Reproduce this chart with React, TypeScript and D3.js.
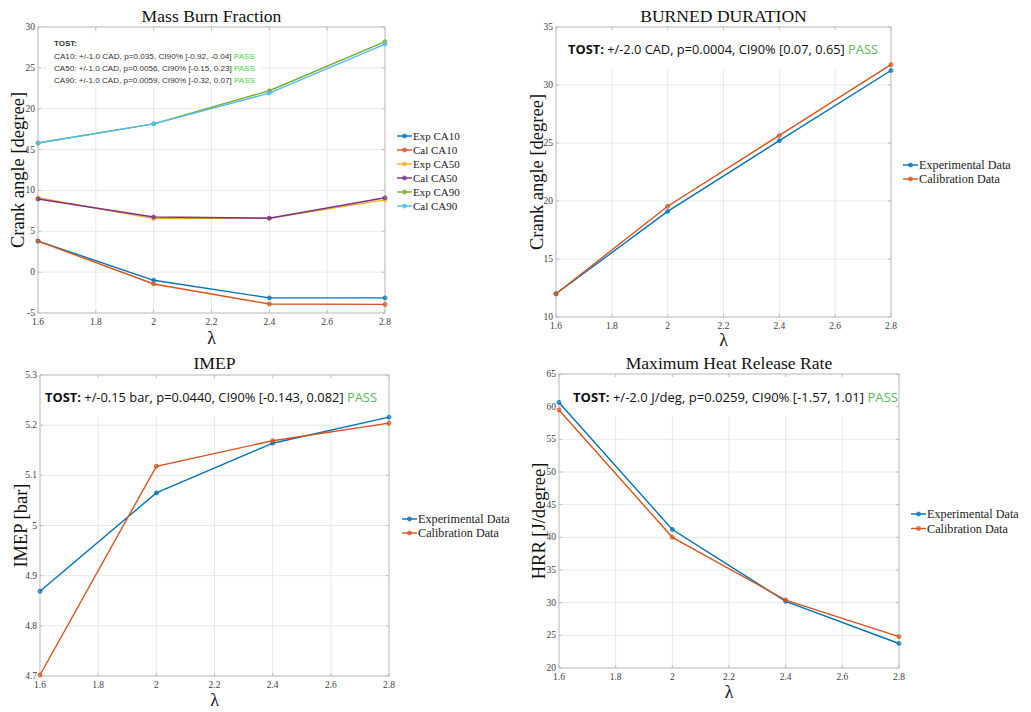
import React from "react";
import * as d3 from "d3";

const lambdaVals = [1.6, 2.0, 2.4, 2.8];
const xTicks = [1.6, 1.8, 2.0, 2.2, 2.4, 2.6, 2.8];

// Mass Burn Fraction
const mbfSeriesNames = ["Exp CA10", "Cal CA10", "Exp CA50", "Cal CA50", "Exp CA90", "Cal CA90"];
const expCA10 = [3.8, -1.0, -3.15, -3.15];
const calCA10 = [3.8, -1.45, -3.9, -3.95];
const expCA50 = [9.1, 6.55, 6.6, 8.85];
const calCA50 = [8.95, 6.75, 6.6, 9.1];
const expCA90 = [15.8, 18.15, 22.2, 28.2];
const calCA90 = [15.8, 18.15, 21.9, 27.9];
const mbfYTicks = [-5, 0, 5, 10, 15, 20, 25, 30];
const mbfTost = [
  "CA10: +/-1.0 CAD, p=0.035, CI90% [-0.92, -0.04] ",
  "CA50: +/-1.0 CAD, p=0.0056, CI90% [-0.15, 0.23] ",
  "CA90: +/-1.0 CAD, p=0.0059, CI90% [-0.32, 0.07] ",
];

// Burned duration
const bdExp = [12.0, 19.1, 25.2, 31.25];
const bdCal = [12.0, 19.55, 25.65, 31.75];
const bdYTicks = [10, 15, 20, 25, 30, 35];

// IMEP
const imepExp = [4.869, 5.065, 5.164, 5.216];
const imepCal = [4.702, 5.118, 5.169, 5.204];
const imepYTicks = [4.7, 4.8, 4.9, 5.0, 5.1, 5.2, 5.3];

// HRR
const hrrExp = [60.65, 41.2, 30.2, 23.75];
const hrrCal = [59.5, 40.0, 30.4, 24.8];
const hrrYTicks = [20, 25, 30, 35, 40, 45, 50, 55, 60, 65];

const expCalNames = ["Experimental Data", "Calibration Data"];

const C = {
  blue: "#0072BD",
  orange: "#D95319",
  yellow: "#EDB120",
  purple: "#7E2F8E",
  green: "#77AC30",
  cyan: "#4DBEEE",
};

const SERIF = "'Liberation Serif', 'Times New Roman', serif";
const SANS = "'Open Sans', 'Noto Sans', sans-serif";

type Series = { name: string; values: number[]; color: string };

type PanelProps = {
  x0: number; x1: number; yTop: number; yBot: number;
  domain: [number, number];
  yTicks: number[];
  title: string; titleY: number;
  yLabel: string; yLabelX: number;
  xLabelY: number;
  series: Series[];
  legendX: number; legendY: number; legendStep: number; legendFont: number;
  tostBox?: { x: number; y: number; w: number; h: number };
  children?: React.ReactNode;
};

function fmtTick(v: number) {
  const r = Math.round(v * 100) / 100;
  return String(r);
}

function Panel(p: PanelProps) {
  const x = d3.scaleLinear().domain([1.6, 2.8]).range([p.x0, p.x1]);
  const y = d3.scaleLinear().domain(p.domain).range([p.yBot, p.yTop]);
  const line = d3.line<number>().x((_, i) => x(lambdaVals[i])).y((d) => y(d));
  const gridCol = "#e3e3e3";
  const axisCol = "#bdbdbd";
  const tickCol = "#404040";
  return (
    <g>
      <rect x={p.x0} y={p.yTop} width={p.x1 - p.x0} height={p.yBot - p.yTop} fill="#fff" />
      {xTicks.map((t) => (
        <line key={"gx" + t} x1={x(t)} x2={x(t)} y1={p.yTop} y2={p.yBot} stroke={gridCol} strokeWidth={0.8} />
      ))}
      {p.yTicks.map((t) => (
        <line key={"gy" + t} x1={p.x0} x2={p.x1} y1={y(t)} y2={y(t)} stroke={gridCol} strokeWidth={0.8} />
      ))}
      {p.tostBox && (
        <rect x={p.tostBox.x} y={p.tostBox.y} width={p.tostBox.w} height={p.tostBox.h} fill="#fff" />
      )}
      <rect x={p.x0} y={p.yTop} width={p.x1 - p.x0} height={p.yBot - p.yTop} fill="none" stroke={axisCol} strokeWidth={0.9} />
      {xTicks.map((t) => (
        <g key={"tx" + t}>
          <line x1={x(t)} x2={x(t)} y1={p.yBot} y2={p.yBot - 3} stroke={axisCol} />
          <line x1={x(t)} x2={x(t)} y1={p.yTop} y2={p.yTop + 3} stroke={axisCol} />
          <text x={x(t)} y={p.yBot + 12} textAnchor="middle" fontFamily={SERIF} fontSize={9.5} fill={tickCol}>
            {fmtTick(t)}
          </text>
        </g>
      ))}
      {p.yTicks.map((t) => (
        <g key={"ty" + t}>
          <line x1={p.x0} x2={p.x0 + 3} y1={y(t)} y2={y(t)} stroke={axisCol} />
          <line x1={p.x1} x2={p.x1 - 3} y1={y(t)} y2={y(t)} stroke={axisCol} />
          <text x={p.x0 - 3} y={y(t) + 3} textAnchor="end" fontFamily={SERIF} fontSize={9.5} fill={tickCol}>
            {fmtTick(t)}
          </text>
        </g>
      ))}
      {p.series.map((s) => (
        <g key={s.name}>
          <path d={line(s.values) || ""} fill="none" stroke={s.color} strokeWidth={1.4} />
          {s.values.map((v, i) => (
            <circle key={i} cx={x(lambdaVals[i])} cy={y(v)} r={2} fill={s.color} stroke={s.color} strokeWidth={0.8} fillOpacity={0.6} />
          ))}
        </g>
      ))}
      {p.children}
      <text x={(p.x0 + p.x1) / 2} y={p.titleY} textAnchor="middle" fontFamily={SERIF} fontSize={17.6} fill="#111">
        {p.title}
      </text>
      <text
        transform={`translate(${p.yLabelX},${(p.yTop + p.yBot) / 2}) rotate(-90)`}
        textAnchor="middle" fontFamily={SERIF} fontSize={18.5} fill="#111"
      >
        {p.yLabel}
      </text>
      <text x={(p.x0 + p.x1) / 2} y={p.xLabelY} textAnchor="middle" fontFamily="'Liberation Serif', 'DejaVu Serif', serif" fontSize={18} fill="#111">
        λ
      </text>
      {p.series.map((s, i) => {
        const ly = p.legendY + i * p.legendStep;
        return (
          <g key={"lg" + s.name}>
            <line x1={p.legendX} x2={p.legendX + 15} y1={ly} y2={ly} stroke={s.color} strokeWidth={1.4} />
            <circle cx={p.legendX + 7.5} cy={ly} r={2} fill={s.color} fillOpacity={0.6} stroke={s.color} strokeWidth={0.8} />
            <text x={p.legendX + 16} y={ly + p.legendFont * 0.33} fontFamily={SERIF} fontSize={p.legendFont} fill="#222">
              {s.name}
            </text>
          </g>
        );
      })}
    </g>
  );
}

function Tost({ x, y, w, body, size }: { x: number; y: number; w: number; body: string; size: number }) {
  return (
    <text x={x} y={y} fontFamily={SANS} fontSize={size} fill="#111" textLength={w} lengthAdjust="spacingAndGlyphs">
      <tspan fontWeight="bold">TOST:</tspan>
      <tspan>{body}</tspan>
      <tspan fill="#5cb85c">PASS</tspan>
    </text>
  );
}

export default function App() {
  const mbfValues = [expCA10, calCA10, expCA50, calCA50, expCA90, calCA90];
  const mbfColors = [C.blue, C.orange, C.yellow, C.purple, C.green, C.cyan];
  const mbfSeries: Series[] = mbfSeriesNames.map((n, i) => ({ name: n, values: mbfValues[i], color: mbfColors[i] }));
  const pair = (e: number[], c: number[]): Series[] => [
    { name: expCalNames[0], values: e, color: C.blue },
    { name: expCalNames[1], values: c, color: C.orange },
  ];
  return (
    <svg width={1031} height={712} style={{ position: "absolute", left: 0, top: 0, background: "#fff" }}>
      <rect width={1031} height={712} fill="#fff" />
      <Panel
        x0={38} x1={385} yTop={27} yBot={313} domain={[-5, 30]} yTicks={mbfYTicks}
        title="Mass Burn Fraction" titleY={22} yLabel="Crank angle [degree]" yLabelX={24} xLabelY={344}
        series={mbfSeries} legendX={397} legendY={136} legendStep={14} legendFont={11}
        tostBox={{ x: 46, y: 33, w: 216, h: 55 }}
      >
        <g fontFamily="'Liberation Sans', Arial, sans-serif" fontSize={8} fill="#333">
          <text x={54} y={46} fontWeight="bold" textLength={23} lengthAdjust="spacingAndGlyphs">TOST:</text>
          {mbfTost.map((t, i) => (
            <text key={i} x={54} y={59 + i * 12.2} textLength={201} lengthAdjust="spacingAndGlyphs">
              <tspan>{t}</tspan>
              <tspan fill="#3fdc3f">PASS</tspan>
            </text>
          ))}
        </g>
      </Panel>
      <Panel
        x0={556} x1={891} yTop={27} yBot={317} domain={[10, 35]} yTicks={bdYTicks}
        title="BURNED DURATION" titleY={22} yLabel="Crank angle [degree]" yLabelX={543} xLabelY={346}
        series={pair(bdExp, bdCal)} legendX={903} legendY={165} legendStep={14} legendFont={12.2}
        tostBox={{ x: 557, y: 28, w: 333, h: 40 }}
      >
        <Tost x={568} y={54} w={310} size={13} body=" +/-2.0 CAD, p=0.0004, CI90% [0.07, 0.65] " />
      </Panel>
      <Panel
        x0={40} x1={389} yTop={375} yBot={676} domain={[4.7, 5.3]} yTicks={imepYTicks}
        title="IMEP" titleY={369} yLabel="IMEP [bar]" yLabelX={27} xLabelY={706}
        series={pair(imepExp, imepCal)} legendX={402} legendY={519} legendStep={14} legendFont={12.2}
        tostBox={{ x: 41, y: 376, w: 347, h: 41 }}
      >
        <Tost x={45} y={402} w={332} size={13} body=" +/-0.15 bar, p=0.0440, CI90% [-0.143, 0.082] " />
      </Panel>
      <Panel
        x0={559} x1={899} yTop={374} yBot={668} domain={[20, 65]} yTicks={hrrYTicks}
        title="Maximum Heat Release Rate" titleY={369} yLabel="HRR [J/degree]" yLabelX={545} xLabelY={698}
        series={pair(hrrExp, hrrCal)} legendX={911} legendY={514} legendStep={14.5} legendFont={12.2}
        tostBox={{ x: 566, y: 375, w: 332, h: 41 }}
      >
        <Tost x={573} y={402} w={325} size={13} body=" +/-2.0 J/deg, p=0.0259, CI90% [-1.57, 1.01] " />
      </Panel>
    </svg>
  );
}
